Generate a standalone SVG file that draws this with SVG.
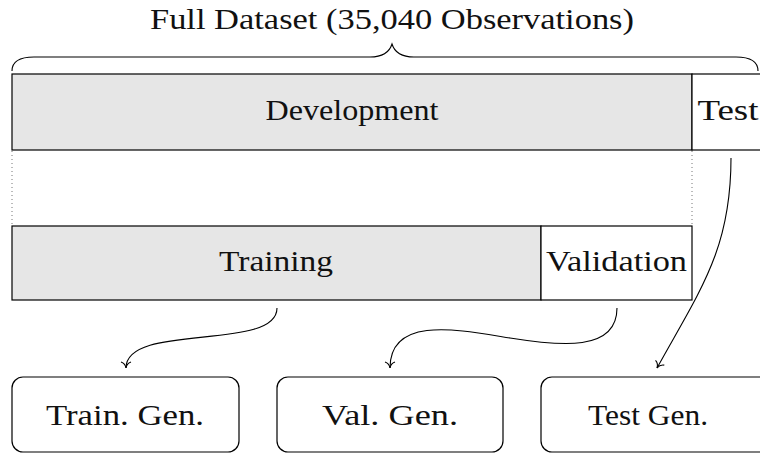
<svg xmlns="http://www.w3.org/2000/svg" width="760" height="453" viewBox="0 0 760 453">
  <style>
    .lbl { font-family: "Liberation Serif", "Times New Roman", serif; font-size: 30px; fill: #111; text-anchor: middle; }
    .bar { stroke: #000; stroke-width: 1.2; }
    .dev { fill: #e6e6e6; }
    .hold { fill: #fff; }
    .gen { fill: #fff; stroke: #000; stroke-width: 1.2; }
    .edge { fill: none; stroke: #000; stroke-width: 1.1; }
    .guide { stroke: #777; stroke-width: 1; stroke-dasharray: 1 3; }
  </style>
  <defs>
    <marker id="to" markerUnits="userSpaceOnUse" markerWidth="14" markerHeight="14" viewBox="-8 -7 10 14" refX="0" refY="0" orient="auto">
      <path d="M-6,-5 C-5,-2 -2,-0.4 0,0 C-2,0.4 -5,2 -6,5" fill="none" stroke="#000" stroke-width="1.1"/>
    </marker>
  </defs>

  <rect width="760" height="453" fill="#fff"/>

  <!-- whole dataset brace and title -->
  <g id="dataset">
    <path class="edge" d="M12,71 Q12,57 34,57 L370,57 Q388,57 392,44 Q396,57 414,57 L736,57 Q758,57 758,71"/>
    <text class="lbl" x="392" y="29" textLength="484" lengthAdjust="spacingAndGlyphs">Full Dataset (35,040 Observations)</text>
  </g>

  <g id="development">
    <rect class="bar dev" x="12" y="74" width="680" height="76"/>
    <text class="lbl" x="352" y="120" textLength="173" lengthAdjust="spacingAndGlyphs">Development</text>
  </g>

  <g id="test">
    <rect class="bar hold" x="692" y="74" width="90" height="76"/>
    <text class="lbl" x="728" y="120" textLength="61" lengthAdjust="spacingAndGlyphs">Test</text>
  </g>

  <!-- projection of the development span onto the split below -->
  <g id="guides">
    <line class="guide" x1="12" y1="151" x2="12" y2="226"/>
    <line class="guide" x1="692" y1="151" x2="692" y2="226"/>
  </g>

  <g id="training">
    <rect class="bar dev" x="12" y="226" width="529" height="74"/>
    <text class="lbl" x="276" y="271" textLength="114" lengthAdjust="spacingAndGlyphs">Training</text>
  </g>

  <g id="validation">
    <rect class="bar hold" x="541" y="226" width="151" height="74"/>
    <text class="lbl" x="616.5" y="271" textLength="141" lengthAdjust="spacingAndGlyphs">Validation</text>
  </g>

  <g id="connectors">
    <path class="edge" marker-end="url(#to)" d="M277,308 C277,352 126,322 126,368"/>
    <path class="edge" marker-end="url(#to)" d="M617,308 C617,352 560,346 510,338 C460,330 390,315 390,368"/>
    <path class="edge" marker-end="url(#to)" d="M731,158 C731,250 700,290 657,368"/>
  </g>

  <g id="train-gen">
    <rect class="gen" x="12" y="377" width="227" height="75" rx="11"/>
    <text class="lbl" x="125" y="425" textLength="158" lengthAdjust="spacingAndGlyphs">Train. Gen.</text>
  </g>

  <g id="val-gen">
    <rect class="gen" x="277" y="377" width="226" height="75" rx="11"/>
    <text class="lbl" x="390" y="425" textLength="136" lengthAdjust="spacingAndGlyphs">Val. Gen.</text>
  </g>

  <g id="test-gen">
    <rect class="gen" x="541" y="377" width="240" height="75" rx="11"/>
    <text class="lbl" x="648" y="425" textLength="120" lengthAdjust="spacingAndGlyphs">Test Gen.</text>
  </g>
</svg>
